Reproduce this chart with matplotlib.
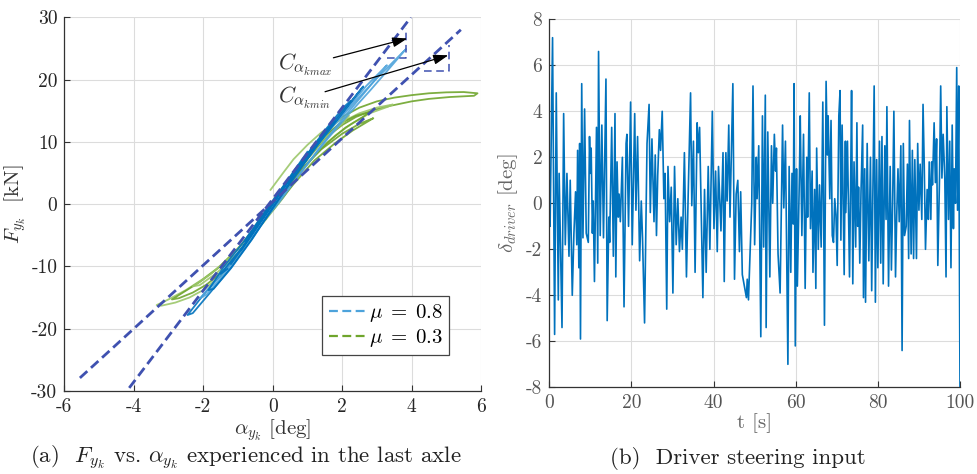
import matplotlib
matplotlib.use("Agg")
import matplotlib.pyplot as plt
from matplotlib.lines import Line2D

plt.rcParams.update({
    "mathtext.fontset": "cm",
    "font.family": "serif",
    "font.serif": ["cmr10", "DejaVu Serif"],
    "axes.unicode_minus": False,
    "axes.formatter.use_mathtext": True,
})

# ---------------- data: lateral force vs slip angle, last axle ----------------
# mu = 0.8 loops (alpha [deg], Fy [kN])
b1_alpha = [0.0, 0.6, 1.2, 1.8, 2.4, 3.0, 3.5, 3.84, 3.7, 3.3, 2.8, 2.2, 1.6, 1.0, 0.4, -0.2]
b1_fy = [0.2, 4.8, 9.1, 12.9, 16.6, 20.2, 23.0, 24.9, 24.0, 21.4, 18.2, 14.5, 10.6, 6.4, 2.1, -2.0]
b2_alpha = [-0.3, 0.3, 0.9, 1.5, 2.1, 2.7, 3.29, 3.1, 2.6, 2.0, 1.4, 0.8, 0.2, -0.4]
b2_fy = [-2.4, 2.3, 6.9, 11.0, 15.0, 19.0, 22.3, 21.0, 17.6, 13.6, 9.4, 5.0, 0.4, -3.7]
b3_alpha = [-0.5, 0.2, 0.8, 1.4, 2.0, 2.61, 2.4, 1.9, 1.3, 0.7, 0.1, -0.6]
b3_fy = [-4.0, 1.5, 6.2, 10.4, 14.7, 18.9, 17.4, 13.8, 9.5, 5.0, 0.3, -5.3]
b4_alpha = [0.3, -0.3, -0.9, -1.5, -2.0, -2.45, -2.3, -1.8, -1.2, -0.6, 0.0, 0.6]
b4_fy = [2.5, -2.5, -7.3, -11.4, -14.6, -17.8, -17.5, -14.2, -10.2, -5.6, -0.7, 4.4]
b5_alpha = [0.2, -0.4, -1.0, -1.6, -2.09, -1.9, -1.4, -0.8, -0.2, 0.4]
b5_fy = [1.8, -3.2, -7.9, -12.0, -15.1, -14.5, -11.2, -6.8, -1.8, 3.2]
b6_alpha = [-1.2, -0.6, 0.0, 0.6, 1.2, 1.8, 1.6, 1.0, 0.4, -0.2, -0.8, -1.5, -1.3]
b6_fy = [-9.6, -4.9, 0.0, 4.9, 9.3, 13.3, 12.2, 8.0, 3.3, -1.6, -6.4, -11.2, -10.4]
b7_alpha = [-0.8, -0.2, 0.4, 1.0, 1.6, 2.25, 2.05, 1.5, 0.9, 0.3, -0.3, -0.9]
b7_fy = [-6.0, -1.2, 3.5, 8.0, 12.2, 16.6, 15.6, 11.8, 7.3, 2.5, -2.4, -7.4]
b8_alpha = [1.0, 0.4, -0.2, -0.8, -1.4, -1.85, -1.7, -1.2, -0.6, 0.0, 0.7, 1.3]
b8_fy = [8.4, 3.6, -1.0, -5.8, -10.0, -13.8, -13.6, -10.3, -5.7, -0.6, 4.9, 9.6]

# mu = 0.3 loops
g1_alpha = [0.0, 0.5, 1.0, 1.5, 2.0, 2.5, 3.0, 3.5, 4.0, 4.5, 5.0, 5.5, 5.9,
            5.8, 5.1, 4.5, 4.0, 3.4, 2.9, 2.4, 2.0, 1.5, 1.0, 0.5, 0.0]
g1_fy = [0.3, 4.2, 8.0, 11.4, 14.0, 15.5, 16.5, 17.1, 17.5, 17.8, 17.95, 18.0, 17.8,
         17.4, 17.2, 16.9, 16.5, 15.8, 15.1, 14.0, 12.7, 10.5, 7.2, 3.5, -0.5]
g2_alpha = [-0.3, 0.3, 0.9, 1.5, 2.0, 2.5, 3.0, 3.46, 3.3, 2.8, 2.3, 1.8, 1.3, 0.8, 0.3, -0.3]
g2_fy = [-2.0, 2.5, 7.0, 10.8, 13.2, 14.6, 15.5, 16.0, 15.6, 14.6, 13.0, 11.0, 8.4, 5.0, 1.0, -3.2]
g3_alpha = [-0.5, 0.1, 0.7, 1.3, 1.9, 2.4, 2.8, 2.6, 2.1, 1.6, 1.0, 0.4, -0.2]
g3_fy = [-3.5, 1.2, 5.9, 10.0, 12.8, 14.2, 14.8, 14.0, 12.3, 10.0, 6.6, 2.2, -2.4]
g4_alpha = [-0.06, 0.3, 0.6, 1.0, 1.4, 1.9, 2.2, 2.0, 1.5, 1.0, 0.5, 0.0]
g4_fy = [2.3, 5.0, 7.2, 9.5, 11.5, 13.4, 14.2, 12.9, 10.6, 7.4, 3.8, -0.2]
g5_alpha = [0.3, -0.3, -0.9, -1.5, -2.0, -2.5, -3.0, -3.34,
            -3.2, -2.8, -2.4, -2.0, -1.5, -1.0, -0.5, 0.1]
g5_fy = [2.0, -2.2, -6.5, -9.9, -12.0, -13.8, -15.3, -16.2,
         -16.3, -15.8, -15.0, -13.8, -11.5, -8.3, -4.4, 0.5]
g6_alpha = [0.2, -0.4, -1.0, -1.6, -2.1, -2.5, -2.9, -2.7, -2.3, -1.9, -1.4, -0.9, -0.4, 0.2]
g6_fy = [1.4, -3.0, -7.2, -10.4, -12.5, -13.9, -15.3, -15.1, -14.2, -12.9, -10.6, -7.4, -3.5, 1.0]
g7_alpha = [0.0, -0.6, -1.2, -1.8, -2.3, -2.1, -1.6, -1.0, -0.4, 0.3]
g7_fy = [0.0, -4.6, -8.4, -11.3, -13.2, -13.0, -11.0, -7.8, -3.6, 1.6]
g8_alpha = [-0.4, 0.2, 0.8, 1.4, 2.0, 2.5, 2.9, 2.75, 2.3, 1.8, 1.2, 0.6, 0.0]
g8_fy = [-3.5, 1.0, 5.4, 8.8, 11.3, 12.9, 13.8, 13.3, 11.8, 9.8, 7.0, 3.2, -1.0]

# cornering stiffness lines and slope triangles
cmax_alpha = [-4.13, 3.98]
cmax_fy = [-29.5, 30.0]
cmin_alpha = [-5.55, 5.42]
cmin_fy = [-27.9, 28.0]
tri_max_alpha = [3.28, 3.84, 3.84]
tri_max_fy = [23.4, 23.4, 28.3]
tri_min_alpha = [4.36, 5.09, 5.09]
tri_min_fy = [21.3, 21.3, 25.6]

# ---------------- data: driver steering input ----------------
t_s = [0, 0.2, 0.8, 1.3, 1.7, 2.2, 2.4, 3.1, 3.5, 3.9, 4.3, 4.8, 5.1, 5.6, 6.0, 6.4, 6.7, 6.9,
       7.2, 7.4, 7.6, 7.9, 8.2, 8.6, 9.0, 9.5, 9.8, 10.0, 10.2, 10.5, 10.7, 11.0, 11.5, 11.8,
       12.0, 12.4, 12.8, 13.2, 13.8, 14.1, 14.5, 14.7, 15.2, 15.6, 16.0, 16.2, 16.5, 16.8,
       17.0, 17.3, 17.8, 18.2, 18.7, 18.9, 19.3, 19.8, 20.2, 20.8, 21.1, 21.5, 22.0, 22.4,
       22.7, 23.2, 23.8, 24.3, 24.6, 25.0, 25.5, 25.8, 26.1, 26.4, 26.8, 27.1, 27.5, 27.9,
       28.2, 28.6, 28.9, 29.3, 29.7, 30.1, 30.5, 30.9, 31.3, 31.7, 32.1, 32.4, 32.9, 33.4,
       33.8, 34.4, 34.7, 35.1, 35.5, 36.0, 36.3, 36.6, 37.4, 37.8, 38.2, 38.7, 39.1, 39.7,
       40.1, 40.5, 40.9, 41.2, 41.8, 42.3, 42.6, 43.0, 43.3, 43.7, 44.0, 44.7, 45.1, 45.5,
       45.9, 46.3, 46.6, 47.0, 48.0, 48.2, 48.5, 49.3, 49.6, 50.0, 50.4, 50.6, 51.0, 51.5,
       51.9, 52.2, 52.6, 52.8, 53.2, 53.7, 54.1, 54.4, 54.8, 55.1, 55.3, 55.7, 56.2, 56.8,
       57.1, 57.5, 58.1, 58.4, 58.8, 59.1, 59.4, 59.6, 59.9, 60.2, 60.4, 60.9, 61.1, 61.5,
       61.9, 62.3, 62.7, 62.9, 63.3, 63.6, 64.0, 64.2, 64.6, 64.9, 65.1, 65.5, 65.8, 66.2,
       66.6, 67.0, 67.4, 67.7, 67.9, 68.3, 68.6, 68.9, 69.2, 69.5, 69.8, 70.1, 70.5, 70.8,
       71.0, 71.3, 71.8, 72.1, 72.2, 72.6, 73.1, 73.4, 73.6, 73.9, 74.2, 74.6, 74.9, 75.1,
       75.3, 75.6, 75.9, 76.3, 76.5, 76.8, 77.0, 77.4, 77.8, 78.2, 78.5, 79.1, 79.4, 79.7,
       80.0, 80.4, 80.7, 81.0, 81.3, 81.7, 82.0, 82.2, 82.6, 83.0, 83.3, 83.6, 83.9, 84.3,
       84.6, 84.9, 85.2, 85.6, 85.9, 86.2, 86.5, 86.9, 87.2, 87.5, 87.7, 88.1, 88.4, 88.7,
       89.0, 89.4, 89.7, 90.0, 90.3, 90.7, 91.0, 91.3, 91.6, 92.0, 92.3, 92.5, 92.9, 93.1,
       93.3, 93.7, 94.0, 94.3, 94.6, 95.0, 95.3, 95.6, 95.9, 96.3, 96.6, 96.8, 97.2, 97.5,
       97.8, 98.1, 98.4, 98.6, 98.9, 99.2, 99.4, 99.7, 99.8, 100.0]
delta_driver = [0.5, -1.0, 7.2, -5.7, 4.8, -4.2, 1.3, -5.4, 3.9, -1.8, 1.3, -2.3, 1.0, -4.0,
                -1.3, 0.5, -1.8, 2.3, -2.8, 2.6, -5.9, 5.2, -1.5, 4.1, -1.3, -1.7, 2.9, 1.3,
                2.4, -1.3, 0.1, -3.4, 3.3, -2.6, 6.6, -1.4, 3.4, -1.5, 5.4, -5.1, -0.6, -1.7,
                3.3, -2.3, 3.9, -3.2, 1.8, -0.6, 0.4, -0.8, 2.0, -4.5, 2.6, 3.0, -1.0, 4.4,
                -1.8, 3.9, -0.3, 2.9, -2.5, 0.1, -1.5, -5.2, 2.6, 4.3, -0.4, 2.8, -0.8, 2.1,
                -1.4, 1.2, 3.2, 2.3, 4.0, 0.2, 1.3, -4.6, 1.6, -0.8, 0.7, -3.9, 1.6, -1.8,
                0.2, -2.1, -0.6, -2.0, 2.2, -3.2, 0.2, 4.8, -0.1, 2.7, -3.0, 3.5, 2.2, 3.3,
                -4.1, 0.6, -3.0, 1.6, -2.0, 4.0, -1.1, 1.4, -2.1, 1.6, -1.2, 2.2, -3.4, 2.2,
                0.1, 3.4, -0.6, 5.2, -3.3, 0.4, 1.0, -2.1, 0.5, -3.1, -4.1, -3.3, -4.2, 0.0,
                5.1, -1.8, 2.0, 0.2, 2.5, -5.8, 3.8, -1.9, 4.7, -5.4, 3.1, -3.2, 2.5, 0.0,
                3.0, 1.4, 2.4, -2.2, -3.9, 3.4, -0.2, 2.7, -7.0, 1.6, -3.0, 1.3, -0.9, 5.2,
                -6.2, 1.5, -3.6, 1.2, 3.8, -1.4, 3.0, -3.7, 2.0, -0.6, 4.8, -1.1, 1.4, -3.0,
                0.6, -3.7, 2.4, -2.0, 0.8, -1.9, 4.4, -5.3, 5.3, 2.1, 3.8, 0.2, 3.6, -1.4,
                -1.7, 0.2, -0.5, -2.7, 3.8, 4.9, -1.6, 3.4, -3.1, 2.7, -0.4, 2.7, -3.2, 1.3,
                4.9, -3.5, 1.8, -1.9, 3.5, -1.0, 0.7, -2.6, 0.5, 3.4, -4.1, 1.5, -4.3, 2.6,
                -2.5, 2.0, -3.8, 5.1, -4.3, 1.9, -2.8, 2.7, -2.6, 2.9, -3.5, 2.5, -0.7, 4.2,
                -3.6, 1.6, -2.9, 0.0, 4.0, -3.2, -0.5, 1.5, -0.8, 2.5, -6.4, 2.6, -1.4, -1.0,
                1.7, -2.4, 3.6, -2.2, 2.3, -2.4, 1.9, -2.4, 2.6, -0.3, 1.7, -0.7, 4.3, 1.6,
                -2.0, 0.6, -0.7, 1.8, -0.7, 1.8, 0.8, 3.5, 0.9, 2.8, -2.7, 1.0, 5.1, 1.1,
                3.0, 1.1, -3.2, 4.2, -0.7, 2.7, -2.8, 3.4, -1.1, 1.5, 0.0, 5.9, -0.3, 5.1,
                -0.3, -8.0]

BLUE_DARK = "#0072BD"
BLUE_LIGHT = "#4DA3DB"
GREEN_DARK = "#6FA52C"
GREEN_LIGHT = "#9CC76A"
STIFF = "#3F51B0"
GRID = "#DCDCDC"
TICK = "#262626"

fig = plt.figure(figsize=(9.77, 4.74), dpi=100)
ax1 = fig.add_axes([0.0658, 0.1751, 0.4265, 0.7884])
ax2 = fig.add_axes([0.5622, 0.1829, 0.4204, 0.7764])


def style(ax, label_color):
    ax.grid(True, color=GRID, linewidth=0.8)
    ax.set_axisbelow(True)
    for side in ("top", "right"):
        ax.spines[side].set_visible(False)
    for side in ("left", "bottom"):
        ax.spines[side].set_color("#333333")
        ax.spines[side].set_linewidth(0.9)
    ax.tick_params(direction="in", length=4, width=0.8, colors="#333333",
                   labelcolor=label_color, labelsize=14, pad=5)


# ---- left panel ----
style(ax1, TICK)
green_loops = [(g1_alpha, g1_fy, GREEN_DARK), (g2_alpha, g2_fy, GREEN_LIGHT),
               (g3_alpha, g3_fy, GREEN_DARK), (g4_alpha, g4_fy, GREEN_LIGHT),
               (g5_alpha, g5_fy, GREEN_LIGHT), (g6_alpha, g6_fy, GREEN_DARK),
               (g7_alpha, g7_fy, GREEN_LIGHT), (g8_alpha, g8_fy, GREEN_DARK)]
blue_loops = [(b1_alpha, b1_fy, BLUE_LIGHT), (b2_alpha, b2_fy, BLUE_LIGHT),
              (b3_alpha, b3_fy, BLUE_DARK), (b4_alpha, b4_fy, BLUE_DARK),
              (b5_alpha, b5_fy, BLUE_LIGHT), (b6_alpha, b6_fy, BLUE_DARK),
              (b7_alpha, b7_fy, BLUE_DARK), (b8_alpha, b8_fy, BLUE_DARK)]
for a, f, c in green_loops:
    ax1.plot(a, f, color=c, lw=1.3, alpha=0.9, zorder=2)
for a, f, c in blue_loops:
    ax1.plot(a, f, color=c, lw=1.3, alpha=0.9, zorder=3)

dash = (0, (3.6, 1.8))
ax1.plot(cmax_alpha, cmax_fy, color=STIFF, lw=2.0, linestyle=dash, zorder=4)
ax1.plot(cmin_alpha, cmin_fy, color=STIFF, lw=2.0, linestyle=dash, zorder=4)
ax1.plot(tri_max_alpha, tri_max_fy, color=STIFF, lw=1.1, linestyle=(0, (5, 3)), zorder=4)
ax1.plot(tri_min_alpha, tri_min_fy, color=STIFF, lw=1.1, linestyle=(0, (5, 3)), zorder=4)

arrow = dict(arrowstyle="-|>,head_length=0.9,head_width=0.3", color="black", lw=0.9,
             shrinkA=0, shrinkB=0)
ax1.annotate("", xy=(3.88, 26.6), xytext=(1.75, 23.5), arrowprops=arrow, zorder=5)
ax1.annotate("", xy=(5.06, 23.9), xytext=(1.51, 18.05), arrowprops=arrow, zorder=5)
ax1.text(0.15, 22.3, r"$C_{\alpha_{kmax}}$", fontsize=16, color="#333333",
         ha="left", va="center")
ax1.text(0.15, 17.0, r"$C_{\alpha_{kmin}}$", fontsize=16, color="#333333",
         ha="left", va="center")

ax1.set_xlim(-6, 6)
ax1.set_ylim(-30, 30)
x1_ticks = [-6, -4, -2, 0, 2, 4, 6]
y1_ticks = [-30, -20, -10, 0, 10, 20, 30]
ax1.set_xticks(x1_ticks, [str(v) for v in x1_ticks])
ax1.set_yticks(y1_ticks, [str(v) for v in y1_ticks])
ax1.set_xlabel(r"$\alpha_{y_k}$ [deg]", fontsize=15, color="#333333", labelpad=1)
ax1.set_ylabel(r"$F_{y_k}$  [kN]", fontsize=15, color="#333333", labelpad=2)

handles = [Line2D([], [], color=BLUE_LIGHT, lw=1.6, linestyle=(0, (4, 2))),
           Line2D([], [], color=GREEN_DARK, lw=1.6, linestyle=(0, (4, 2)))]
leg = ax1.legend(handles, [r"$\mu\;=\;0.8$", r"$\mu\;=\;0.3$"], loc="lower right",
                 bbox_to_anchor=(0.924, 0.0955), borderaxespad=0, fontsize=15,
                 frameon=True, fancybox=False, edgecolor="#444444", framealpha=1,
                 handlelength=1.9, handletextpad=0.05, borderpad=0.3, labelspacing=0.15)
leg.get_frame().set_linewidth(0.9)

# ---- right panel ----
style(ax2, "#555555")
ax2.plot(t_s, delta_driver, color=BLUE_DARK, lw=1.2)
ax2.set_xlim(0, 100)
ax2.set_ylim(-8, 8)
x2_ticks = [0, 20, 40, 60, 80, 100]
y2_ticks = [-8, -6, -4, -2, 0, 2, 4, 6, 8]
ax2.set_xticks(x2_ticks, [str(v) for v in x2_ticks])
ax2.set_yticks(y2_ticks, [str(v) for v in y2_ticks])
ax2.set_xlabel("t [s]", fontsize=15, color="#666666", labelpad=1)
ax2.set_ylabel(r"$\delta_{driver}$ [deg]", fontsize=15, color="#666666", labelpad=4)

# captions
fig.text(246 / 977, 1 - 458 / 474,
         r"(a)  $F_{y_k}$ vs. $\alpha_{y_k}$ experienced in the last axle",
         fontsize=16.5, ha="center", va="center", color="#222222")
fig.text(738 / 977, 1 - 458 / 474, "(b)  Driver steering input",
         fontsize=16.5, ha="center", va="center", color="#222222")

fig.savefig("out.png", dpi=100)
